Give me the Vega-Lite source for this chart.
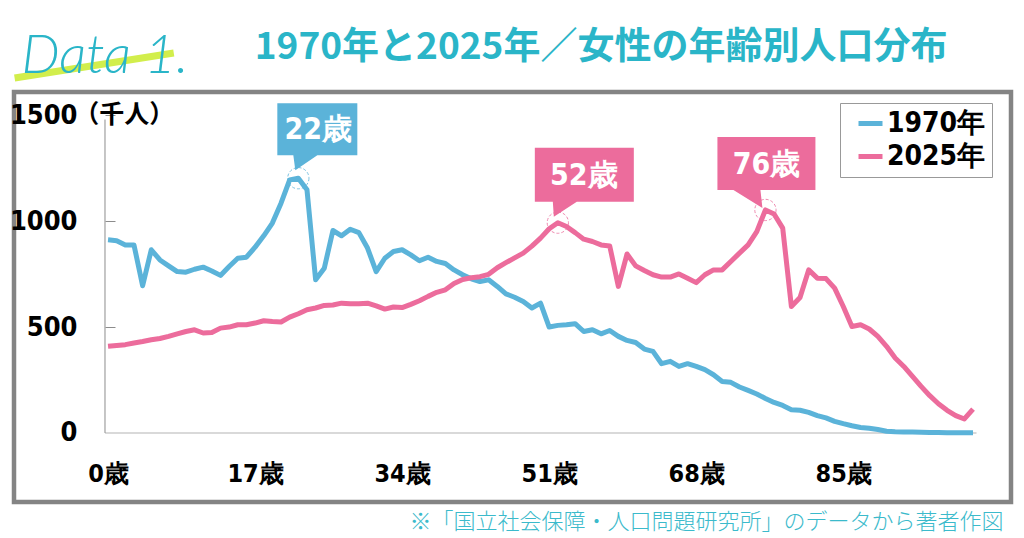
{
  "$schema": "https://vega.github.io/schema/vega-lite/v6.json",
  "width": 997,
  "height": 410,
  "autosize": "none",
  "padding": {"left": 14, "top": 92, "right": 13, "bottom": 36},
  "background": "white",
  "config": {
    "view": {"stroke": "#848484", "strokeWidth": 4.5},
    "axis": {"grid": false}
  },
  "datasets": {
    "pop": [
      {"age":0,"1970年":912,"2025年":409},{"age":1,"1970年":908,"2025年":413},{"age":2,"1970年":888,"2025年":417},{"age":3,"1970年":888,"2025年":425},{"age":4,"1970年":695,"2025年":432},
      {"age":5,"1970年":865,"2025年":440},{"age":6,"1970年":817,"2025年":446},{"age":7,"1970年":789,"2025年":456},{"age":8,"1970年":762,"2025年":468},{"age":9,"1970年":759,"2025年":479},
      {"age":10,"1970年":773,"2025年":487},{"age":11,"1970年":783,"2025年":472},{"age":12,"1970年":765,"2025年":474},{"age":13,"1970年":744,"2025年":495},{"age":14,"1970年":786,"2025年":500},
      {"age":15,"1970年":825,"2025年":511},{"age":16,"1970年":830,"2025年":511},{"age":17,"1970年":877,"2025年":519},{"age":18,"1970年":931,"2025年":530},{"age":19,"1970年":991,"2025年":526},
      {"age":20,"1970年":1085,"2025年":524},{"age":21,"1970年":1195,"2025年":547},{"age":22,"1970年":1203,"2025年":563},{"age":23,"1970年":1148,"2025年":582},{"age":24,"1970年":723,"2025年":590},
      {"age":25,"1970年":778,"2025年":602},{"age":26,"1970年":956,"2025年":604},{"age":27,"1970年":931,"2025年":613},{"age":28,"1970年":962,"2025年":610},{"age":29,"1970年":946,"2025年":610},
      {"age":30,"1970年":873,"2025年":613},{"age":31,"1970年":762,"2025年":600},{"age":32,"1970年":825,"2025年":585},{"age":33,"1970年":857,"2025年":595},{"age":34,"1970年":865,"2025年":592},
      {"age":35,"1970年":841,"2025年":607},{"age":36,"1970年":813,"2025年":624},{"age":37,"1970年":830,"2025年":645},{"age":38,"1970年":810,"2025年":664},{"age":39,"1970年":800,"2025年":676},
      {"age":40,"1970年":770,"2025年":706},{"age":41,"1970年":747,"2025年":725},{"age":42,"1970年":728,"2025年":733},{"age":43,"1970年":715,"2025年":738},{"age":44,"1970年":723,"2025年":749},
      {"age":45,"1970年":692,"2025年":780},{"age":46,"1970年":657,"2025年":804},{"age":47,"1970年":641,"2025年":827},{"age":48,"1970年":621,"2025年":849},{"age":49,"1970年":590,"2025年":882},
      {"age":50,"1970年":613,"2025年":920},{"age":51,"1970年":500,"2025年":964},{"age":52,"1970年":508,"2025年":993},{"age":53,"1970年":511,"2025年":975},{"age":54,"1970年":516,"2025年":946},
      {"age":55,"1970年":479,"2025年":915},{"age":56,"1970年":487,"2025年":904},{"age":57,"1970年":468,"2025年":888},{"age":58,"1970年":484,"2025年":883},{"age":59,"1970年":456,"2025年":692},
      {"age":60,"1970年":437,"2025年":845},{"age":61,"1970年":427,"2025年":789},{"age":62,"1970年":396,"2025年":767},{"age":63,"1970年":385,"2025年":747},{"age":64,"1970年":327,"2025年":736},
      {"age":65,"1970年":338,"2025年":736},{"age":66,"1970年":314,"2025年":751},{"age":67,"1970年":327,"2025年":731},{"age":68,"1970年":314,"2025年":710},{"age":69,"1970年":299,"2025年":747},
      {"age":70,"1970年":275,"2025年":770},{"age":71,"1970年":243,"2025年":770},{"age":72,"1970年":239,"2025年":810},{"age":73,"1970年":217,"2025年":849},{"age":74,"1970年":201,"2025年":888},
      {"age":75,"1970年":184,"2025年":951},{"age":76,"1970年":163,"2025年":1053},{"age":77,"1970年":144,"2025年":1034},{"age":78,"1970年":130,"2025年":967},{"age":79,"1970年":110,"2025年":597},
      {"age":80,"1970年":107,"2025年":640},{"age":81,"1970年":97,"2025年":770},{"age":82,"1970年":82,"2025年":731},{"age":83,"1970年":71,"2025年":729},{"age":84,"1970年":55,"2025年":684},
      {"age":85,"1970年":44,"2025年":597},{"age":86,"1970年":34,"2025年":503},{"age":87,"1970年":26,"2025年":511},{"age":88,"1970年":22,"2025年":491},{"age":89,"1970年":16,"2025年":456},
      {"age":90,"1970年":8,"2025年":409},{"age":91,"1970年":6,"2025年":354},{"age":92,"1970年":5,"2025年":314},{"age":93,"1970年":4,"2025年":267},{"age":94,"1970年":3,"2025年":220},
      {"age":95,"1970年":2,"2025年":176},{"age":96,"1970年":2,"2025年":138},{"age":97,"1970年":1,"2025年":107},{"age":98,"1970年":1,"2025年":82},{"age":99,"1970年":1,"2025年":66},
      {"age":100,"1970年":1,"2025年":113}
    ],
    "peaks": [
      {"age":22,"value":1203,"series":"1970年","label":"22歳"},
      {"age":52,"value":993,"series":"2025年","label":"52歳"},
      {"age":76,"value":1053,"series":"2025年","label":"76歳"}
    ],
    "one": [{}]
  },
  "layer": [
    {
      "data": {"name": "one"},
      "mark": {"type": "rule", "color": "#d9d9d9", "strokeWidth": 2},
      "encoding": {"x": {"datum": -0.35}, "x2": {"datum": 100.4}, "y": {"datum": 0}}
    },
    {
      "data": {"name": "one"},
      "mark": {"type": "rule", "color": "#8c8c8c", "strokeWidth": 1},
      "encoding": {"x": {"datum": -0.35}, "y": {"datum": 0}, "y2": {"datum": 1480}}
    },
    {
      "data": {"name": "one"},
      "mark": {"type": "rule", "color": "#D2EE4C", "strokeWidth": 7, "clip": false},
      "encoding": {"x": {"datum": -10.8}, "x2": {"datum": 7.6}, "y": {"datum": 1676}, "y2": {"datum": 1794}}
    },
    {
      "data": {"name": "one"},
      "mark": {"type": "text", "text": "Data 1.", "font": "Lato", "fontStyle": "italic", "fontWeight": 300, "fontSize": 54, "color": "#2AB5C8", "align": "left", "baseline": "alphabetic", "clip": false},
      "encoding": {"x": {"datum": -10.0}, "y": {"datum": 1700}}
    },
    {
      "data": {"name": "one"},
      "mark": {"type": "text", "text": "1970年と2025年／女性の年齢別人口分布", "font": "Noto Sans CJK JP", "fontWeight": "bold", "fontSize": 37, "color": "#2AB5C8", "align": "center", "baseline": "middle", "clip": false},
      "encoding": {"x": {"datum": 57.0}, "y": {"datum": 1817}}
    },
    {
      "data": {"name": "one"},
      "mark": {"type": "text", "text": "（千人）", "font": "Noto Sans CJK JP", "fontWeight": "bold", "fontSize": 25, "color": "black", "align": "left", "baseline": "middle"},
      "encoding": {"x": {"datum": -3.9}, "y": {"datum": 1500}}
    },
    {
      "data": {"name": "pop"},
      "transform": [{"fold": ["1970年", "2025年"], "as": ["series", "value"]}],
      "mark": {"type": "line", "strokeWidth": 5, "strokeJoin": "round"},
      "encoding": {
        "x": {
          "field": "age", "type": "quantitative",
          "scale": {"domain": [-10.87, 104.39], "nice": false, "zero": false},
          "axis": {
            "values": [0, 17, 34, 51, 68, 85],
            "labelExpr": "datum.value + '歳'",
            "offset": -41, "domain": false, "ticks": false, "labelPadding": 0,
            "labelFont": "DejaVu Sans Condensed", "labelFontSize": 25, "labelFontWeight": "bold", "labelColor": "black",
            "title": "※「国立社会保障・人口問題研究所」のデータから著者作図",
            "titleFont": "Noto Sans CJK JP", "titleFontSize": 22, "titleFontWeight": 300, "titleColor": "#3BBACB",
            "titleAnchor": "end", "titleAlign": "right", "titleBaseline": "middle", "titleX": 989, "titleY": 60
          }
        },
        "y": {
          "field": "value", "type": "quantitative",
          "scale": {"domain": [-326, 1610], "nice": false, "zero": false},
          "axis": {
            "values": [0, 500, 1000, 1500],
            "format": "d",
            "offset": -91, "domain": false, "ticks": true, "tickSize": -10, "tickColor": "#8c8c8c",
            "labelPadding": 38,
            "labelFont": "DejaVu Sans Condensed", "labelFontSize": 27, "labelFontWeight": "bold", "labelColor": "black",
            "title": null
          }
        },
        "color": {
          "field": "series", "type": "nominal",
          "scale": {"domain": ["1970年", "2025年"], "range": ["#5BB3D9", "#EC6C9C"]},
          "legend": {
            "title": null, "orient": "none", "legendX": 826, "legendY": 11,
            "padding": 6, "strokeColor": "#999999", "fillColor": "white",
            "symbolType": "stroke", "symbolSize": 576, "symbolStrokeWidth": 5,
            "symbolOffset": 10, "labelOffset": 2, "rowPadding": 4,
            "labelFont": "DejaVu Sans Condensed", "labelFontSize": 28, "labelFontWeight": "bold", "labelColor": "black"
          }
        }
      }
    },
    {
      "data": {"name": "peaks"},
      "mark": {"type": "point", "shape": "circle", "size": 452, "filled": false, "strokeWidth": 1, "strokeDash": [3, 2], "opacity": 0.8},
      "encoding": {
        "x": {"field": "age", "type": "quantitative"},
        "y": {"field": "value", "type": "quantitative"},
        "color": {"field": "series", "type": "nominal", "legend": null}
      }
    },
    {
      "data": {"name": "peaks"},
      "mark": {"type": "point", "size": 4, "filled": true, "opacity": 1, "strokeWidth": 0},
      "encoding": {
        "x": {"field": "age", "type": "quantitative"},
        "y": {"field": "value", "type": "quantitative"},
        "color": {"field": "series", "type": "nominal", "legend": null},
        "shape": {
          "field": "label", "type": "nominal", "legend": null,
          "scale": {
            "domain": ["22歳", "52歳", "76歳"],
            "range": ["M-21,-75H59V-23H19L-3,-8L-5,-23H-21Z", "M-23,-75H76V-21H19L-4,-6L-5,-21H-23Z", "M-48,-73H50V-20H-5L-3,-2L-32,-20H-48Z"]
          }
        }
      }
    },
    {
      "data": {"name": "peaks"},
      "mark": {
        "type": "text", "font": "DejaVu Sans Condensed", "fontWeight": "bold", "fontSize": 30, "color": "white",
        "align": "center", "baseline": "middle",
        "dx": {"expr": "datum.label == '22歳' ? 20 : datum.label == '52歳' ? 26 : 1"},
        "dy": {"expr": "datum.label == '22歳' ? -48 : datum.label == '52歳' ? -47 : -45"}
      },
      "encoding": {
        "x": {"field": "age", "type": "quantitative"},
        "y": {"field": "value", "type": "quantitative"},
        "text": {"field": "label"}
      }
    }
  ]
}
